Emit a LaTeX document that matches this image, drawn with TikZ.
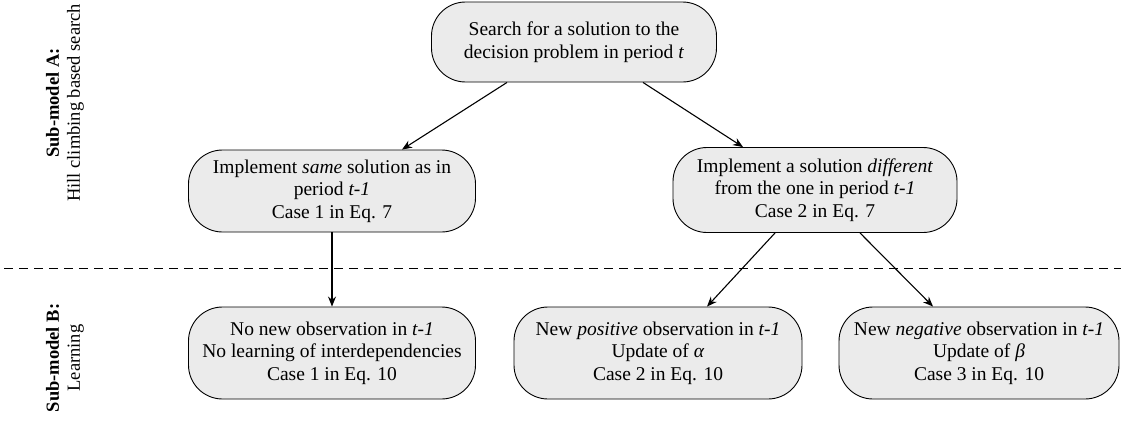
\documentclass[tikz,border=0pt]{standalone}
\usepackage{fontspec}
\setmainfont{Liberation Serif}
\usetikzlibrary{arrows.meta}
\begin{document}
\begin{tikzpicture}[x=1pt,y=-1pt,
  box/.style={draw=black, line width=0.9pt, fill=black!8, rounded corners=34pt,
    align=center, inner sep=0pt, font=\fontsize{19.5}{22.5}\selectfont},
  conn/.style={line width=1.1pt, -{Stealth[length=10pt,width=8pt]}},
  side/.style={rotate=90, align=center, font=\fontsize{18.5}{21}\selectfont}]
\useasboundingbox (0,0) rectangle (1121,423);
\node[box, minimum width=285pt, minimum height=80pt] (top) at (574,42)
  {Search for a solution to the\\decision problem in period \textit{t}};
\node[box, minimum width=287pt, minimum height=82pt] (ml) at (332,191)
  {Implement \textit{same} solution as in\\period \textit{t-1}\\Case 1 in Eq. 7};
\node[box, minimum width=284pt, minimum height=85pt] (mr) at (815,190)
  {Implement a solution \textit{different}\\from the one in period \textit{t-1}\\Case 2 in Eq. 7};
\node[box, minimum width=287pt, minimum height=92pt] (bl) at (332,353)
  {No new observation in \textit{t-1}\\No learning of interdependencies\\Case 1 in Eq. 10};
\node[box, minimum width=288pt, minimum height=92pt] (bm) at (658,353)
  {New \textit{positive} observation in \textit{t-1}\\Update of \textit{α}\\Case 2 in Eq. 10};
\node[box, minimum width=280pt, minimum height=92pt] (br) at (979,353)
  {New \textit{negative} observation in \textit{t-1}\\Update of \textit{β}\\Case 3 in Eq. 10};
\coordinate (d1) at (4,268);
\coordinate (d2) at (1121,268);
\draw[line width=1pt, dash pattern=on 9pt off 6pt] (d1) -- (d2);
\draw[conn] (top.south -| 507,0) -- (ml.north -| 402,0);
\draw[conn] (top.south -| 643,0) -- (mr.north -| 743,0);
\draw[conn] (ml.south) -- (bl.north);
\draw[conn] (mr.south -| 775,0) -- (bm.north -| 707,0);
\draw[conn] (mr.south -| 860,0) -- (br.north -| 933,0);
\node[side] (la) at (65,103) {\textbf{Sub-model A:}\\Hill climbing based search};
\node[side] (lb) at (65,358) {\textbf{Sub-model B:}\\Learning};
\end{tikzpicture}
\end{document}
